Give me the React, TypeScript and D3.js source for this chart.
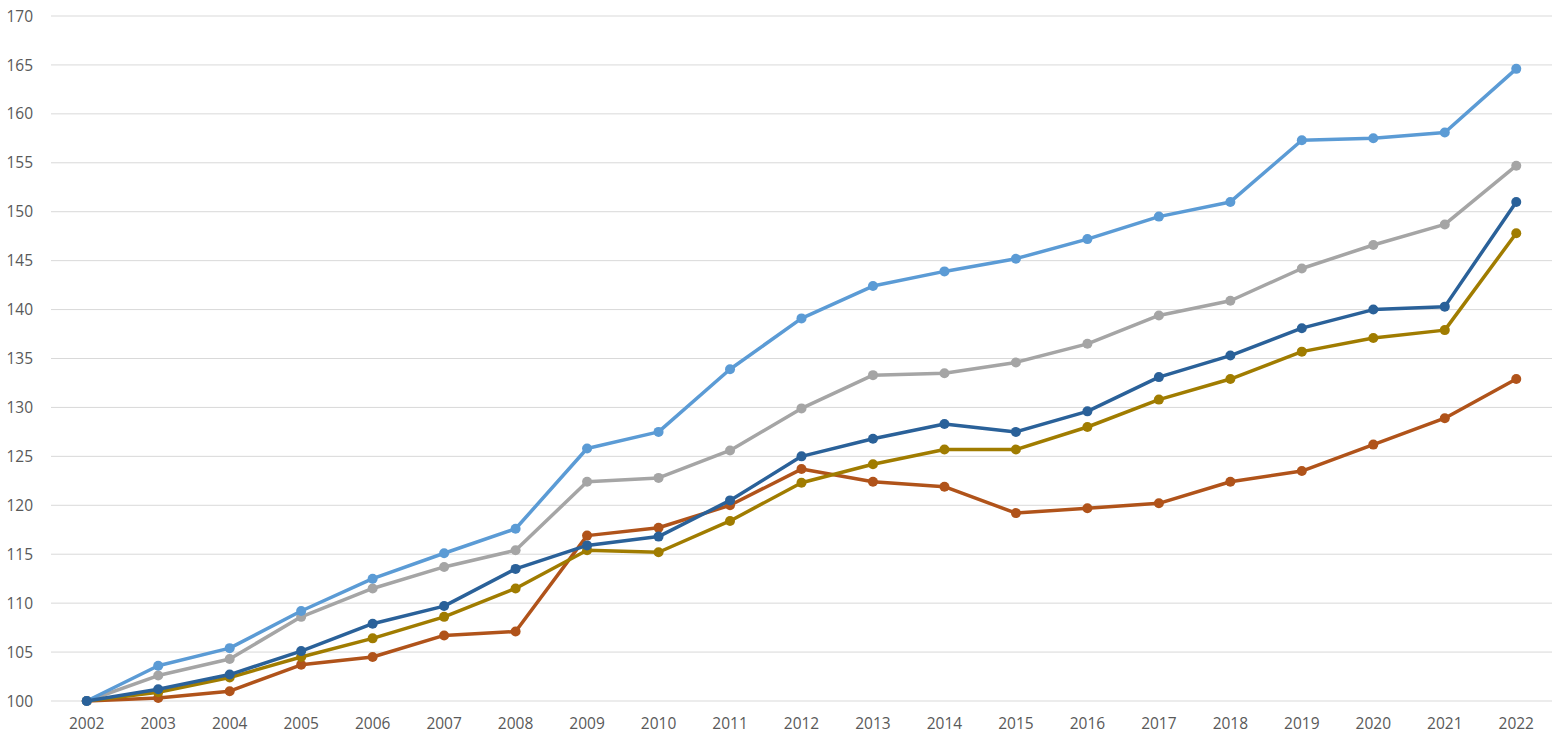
import React from "react";
import * as d3 from "d3";

const years = ["2002","2003","2004","2005","2006","2007","2008","2009","2010","2011","2012","2013","2014","2015","2016","2017","2018","2019","2020","2021","2022"];
const yTicks = [100,105,110,115,120,125,130,135,140,145,150,155,160,165,170];

const seriesOrange = [100,100.3,101.0,103.7,104.5,106.7,107.1,116.9,117.7,120.0,123.7,122.4,121.9,119.2,119.7,120.2,122.4,123.5,126.2,128.9,132.9];
const seriesGold = [100,100.9,102.4,104.5,106.4,108.6,111.5,115.4,115.2,118.4,122.3,124.2,125.7,125.7,128.0,130.8,132.9,135.7,137.1,137.9,147.8];
const seriesGray = [100,102.6,104.3,108.6,111.5,113.7,115.4,122.4,122.8,125.6,129.9,133.3,133.5,134.6,136.5,139.4,140.9,144.2,146.6,148.7,154.7];
const seriesLightBlue = [100,103.6,105.4,109.2,112.5,115.1,117.6,125.8,127.5,133.9,139.1,142.4,143.9,145.2,147.2,149.5,151.0,157.3,157.5,158.1,164.6];
const seriesDarkBlue = [100,101.2,102.7,105.1,107.9,109.7,113.5,115.9,116.8,120.5,125.0,126.8,128.3,127.5,129.6,133.1,135.3,138.1,140.0,140.3,151.0];

const series = [
  { name: "orange", values: seriesOrange, color: "#B0531A" },
  { name: "gold", values: seriesGold, color: "#A07C00" },
  { name: "gray", values: seriesGray, color: "#A5A5A5" },
  { name: "lightblue", values: seriesLightBlue, color: "#5B9BD5" },
  { name: "darkblue", values: seriesDarkBlue, color: "#2A6199" },
];

const W = 1555, H = 741;
const left = 51, right = 1552, top = 16, bottom = 701;

export default function App() {
  const x = d3.scaleBand<string>().domain(years).range([left, right]).paddingInner(0).paddingOuter(0);
  const xc = (i: number) => (x(years[i]) as number) + x.bandwidth() / 2;
  const y = d3.scaleLinear().domain([100, 170]).range([bottom, top]);
  const line = d3.line<number>().x((_, i) => xc(i)).y((v) => y(v));
  const font = "'Open Sans', 'Noto Sans', sans-serif";
  return (
    <div style={{ position: "fixed", left: 0, top: 0, width: W, height: H, background: "#fff" }}>
      <svg width={W} height={H} style={{ display: "block" }}>
        <rect width={W} height={H} fill="#fff" />
        {yTicks.map((t) => (
          <g key={t}>
            <line x1={left} x2={right} y1={y(t)} y2={y(t)} stroke="#D9D9D9" strokeWidth={1} />
            <text x={33} y={y(t)} dy="0.36em" textAnchor="end" fontSize={15.5} fill="#595959" fontFamily={font}>{t}</text>
          </g>
        ))}
        {years.map((yr, i) => (
          <text key={yr} x={xc(i)} y={723} dy="0.36em" textAnchor="middle" fontSize={15.5} fill="#595959" fontFamily={font}>{yr}</text>
        ))}
        {series.map((s) => (
          <g key={s.name}>
            <path d={line(s.values) || ""} fill="none" stroke={s.color} strokeWidth={3.5} strokeLinejoin="round" strokeLinecap="round" />
            {s.values.map((v, i) => (
              <circle key={i} cx={xc(i)} cy={y(v)} r={5} fill={s.color} />
            ))}
          </g>
        ))}
      </svg>
    </div>
  );
}
